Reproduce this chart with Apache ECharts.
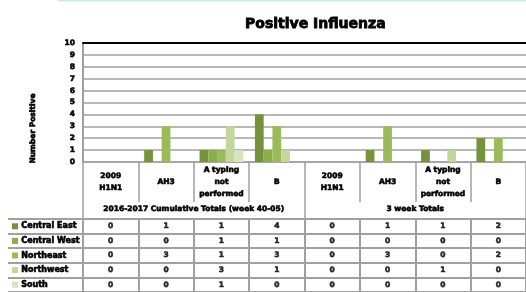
<!DOCTYPE html>
<html>
<head>
<meta charset="utf-8">
<script src="https://cdn.jsdelivr.net/npm/echarts@6/dist/echarts.min.js"></script>
<style>
  html, body { margin: 0; padding: 0; background: #fff; }
  #chart { width: 526px; height: 292px; }
</style>
</head>
<body>
<div id="chart"></div>
<script>
// chart data
var baseCategories = ['2009\nH1N1', 'AH3', 'A typing\nnot\nperformed', 'B'];
var groups = ['2016-2017 Cumulative Totals (week 40-05)', '3 week Totals'];
var regions = ['Central East', 'Central West', 'Northeast', 'Northwest', 'South'];
var yTicks = [0, 10, 1];

var centralEast = [0, 1, 1, 4, 0, 1, 1, 2];
var centralWest = [0, 0, 1, 1, 0, 0, 0, 0];
var northeast   = [0, 3, 1, 3, 0, 3, 0, 2];
var northwest   = [0, 0, 3, 1, 0, 0, 1, 0];
var south       = [0, 0, 1, 0, 0, 0, 0, 0];

var colors = ['#76923C', '#8BAD4A', '#9BBB59', '#C3D69B', '#D7E4BD'];

var categories = baseCategories.concat(baseCategories);
var seriesValues = [centralEast, centralWest, northeast, northwest, south];

var FONT = 'DejaVu Sans';
var GRID = '#a0a0a0';
// the original text is very heavy, a thin stroke thickens it
var txt = {
    fontFamily: FONT, fontWeight: 'bold', fontSize: 7.5, color: '#000',
    textBorderColor: '#000', textBorderWidth: 0.6
};

var chart = echarts.init(document.getElementById('chart'));

var bars = regions.map(function (name, i) {
    return {
        name: name,
        type: 'bar',
        xAxisIndex: 0,
        yAxisIndex: 0,
        barGap: 0,
        barCategoryGap: '21%',
        itemStyle: { color: colors[i] },
        data: seriesValues[i]
    };
});

// cells of the data table
var cells = [];
seriesValues.forEach(function (vals, r) {
    vals.forEach(function (v, c) { cells.push([c, r, v]); });
});

var rich = { t: Object.assign({}, txt, { fontSize: 8 }) };
colors.forEach(function (c, i) {
    rich['s' + i] = { width: 6, height: 6, backgroundColor: c };
});

var option = {
    animation: false,
    title: {
        text: 'Positive Influenza',
        left: 240,
        top: 12,
        textStyle: {
            fontFamily: FONT, fontWeight: 'bold', fontSize: 14, color: '#000',
            textBorderColor: '#000', textBorderWidth: 0.8
        }
    },
    graphic: [{
        type: 'line',
        shape: { x1: 58, y1: 0.5, x2: 526, y2: 0.5 },
        style: { stroke: '#cfeaee', lineWidth: 2 }
    }],
    grid: [
        { left: 83, top: 43, width: 457, height: 119 },
        { left: 83, top: 219, width: 457, height: 73 }
    ],
    xAxis: [
        {
            type: 'category', gridIndex: 0, data: categories,
            axisLine: { lineStyle: { color: GRID, width: 1.5 } },
            axisTick: { show: true, length: 40, lineStyle: { color: GRID, width: 1.5 } },
            axisLabel: Object.assign({ interval: 0, margin: 20, verticalAlign: 'middle', lineHeight: 12, align: 'center' }, txt)
        },
        {
            type: 'category', gridIndex: 0, data: groups, position: 'bottom',
            axisLine: { show: false },
            axisTick: { show: true, length: 56, lineStyle: { color: GRID, width: 1.5 } },
            axisLabel: Object.assign({ interval: 0, margin: 47, verticalAlign: 'middle' }, txt)
        },
        {
            type: 'category', gridIndex: 0, data: categories, position: 'top',
            axisLine: { lineStyle: { color: '#000', width: 2 } },
            axisTick: { show: false },
            axisLabel: { show: false }
        },
        {
            type: 'category', gridIndex: 1, data: categories, position: 'top',
            axisLine: { show: false },
            axisTick: { show: false },
            axisLabel: { show: false },
            splitLine: { show: true, interval: 0, lineStyle: { color: GRID, width: 2 } }
        }
    ],
    yAxis: [
        {
            type: 'value', gridIndex: 0, min: yTicks[0], max: yTicks[1], interval: yTicks[2],
            name: 'Number Positive', nameLocation: 'middle', nameGap: 46, nameRotate: 90,
            nameTextStyle: Object.assign({ padding: [0, 52, 0, 0] }, txt),
            axisLine: { show: true, lineStyle: { color: GRID, width: 2 } },
            axisTick: { show: false },
            axisLabel: Object.assign({ margin: 8 }, txt),
            splitLine: { lineStyle: { color: GRID, width: 1.5 } }
        },
        {
            type: 'category', gridIndex: 1, data: regions, inverse: true,
            axisLine: { show: true, lineStyle: { color: GRID, width: 2 } },
            axisTick: { show: true, interval: 0, length: 75, lineStyle: { color: GRID, width: 2 } },
            axisLabel: {
                interval: 0, margin: 71, align: 'left',
                formatter: function (v, i) { return '{s' + i + '|} {t|' + v + '}'; },
                rich: rich
            },
            splitLine: { show: true, interval: 0, lineStyle: { color: GRID, width: 2 } }
        },
        {
            type: 'category', gridIndex: 1, data: regions, inverse: true, offset: 75,
            axisLine: { show: true, lineStyle: { color: GRID, width: 2 } },
            axisTick: { show: false },
            axisLabel: { show: false }
        }
    ],
    series: bars.concat([{
        name: 'table',
        type: 'scatter',
        xAxisIndex: 3,
        yAxisIndex: 1,
        symbolSize: 1,
        itemStyle: { color: 'rgba(0,0,0,0)' },
        label: Object.assign({
            show: true, position: 'inside',
            formatter: function (p) { return String(p.value[2]); }
        }, txt),
        data: cells
    }])
};

chart.setOption(option);
</script>
</body>
</html>
